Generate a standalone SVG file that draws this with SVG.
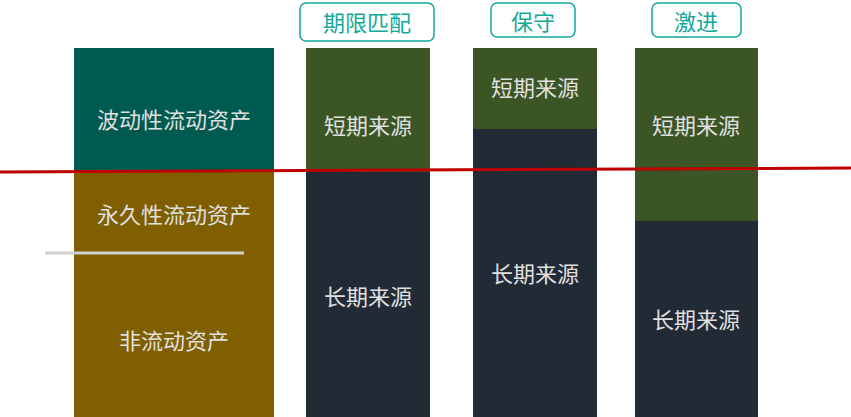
<svg xmlns="http://www.w3.org/2000/svg" width="851" height="417" viewBox="0 0 851 417">
<style>
text{font-family:"Noto Sans CJK SC",sans-serif;font-size:22px;text-anchor:middle;dominant-baseline:central}
.w{fill:#e0e0e0}.h{fill:#12a89a}
.tag{fill:#fff;stroke:#12a89a;stroke-width:1.5}
</style>
<rect width="851" height="417" fill="#fff"/>
<g id="assets">
<rect x="74" y="48" width="200" height="124" fill="#005a50"/>
<rect x="74" y="172" width="200" height="245" fill="#7f5f00"/>
<text class="w" x="174" y="118">波动性流动资产</text>
<text class="w" x="174" y="213">永久性流动资产</text>
<text class="w" x="174" y="339">非流动资产</text>
<line x1="45" y1="253" x2="244" y2="253" stroke="#d0d0d0" stroke-width="3"/>
</g>
<g id="match">
<rect x="300" y="3" width="134" height="38" rx="6" class="tag"/>
<text class="h" x="367" y="21">期限匹配</text>
<rect x="306" y="48" width="124" height="124" fill="#3b5524"/>
<rect x="306" y="172" width="124" height="245" fill="#222a36"/>
<text class="w" x="368" y="124">短期来源</text>
<text class="w" x="368" y="295">长期来源</text>
</g>
<g id="conservative">
<rect x="491" y="3" width="84" height="34" rx="6" class="tag"/>
<text class="h" x="533" y="20">保守</text>
<rect x="473" y="48" width="124" height="81" fill="#3b5524"/>
<rect x="473" y="129" width="124" height="288" fill="#222a36"/>
<text class="w" x="535" y="86">短期来源</text>
<text class="w" x="535" y="272">长期来源</text>
</g>
<g id="aggressive">
<rect x="652" y="3" width="89" height="34" rx="6" class="tag"/>
<text class="h" x="696" y="20">激进</text>
<rect x="635" y="48" width="123" height="173" fill="#3b5524"/>
<rect x="635" y="221" width="123" height="196" fill="#222a36"/>
<text class="w" x="696" y="124">短期来源</text>
<text class="w" x="696" y="318">长期来源</text>
</g>
<g id="connectors">
<line x1="0" y1="172" x2="851" y2="168" stroke="#c00000" stroke-width="3"/>
</g>
</svg>
